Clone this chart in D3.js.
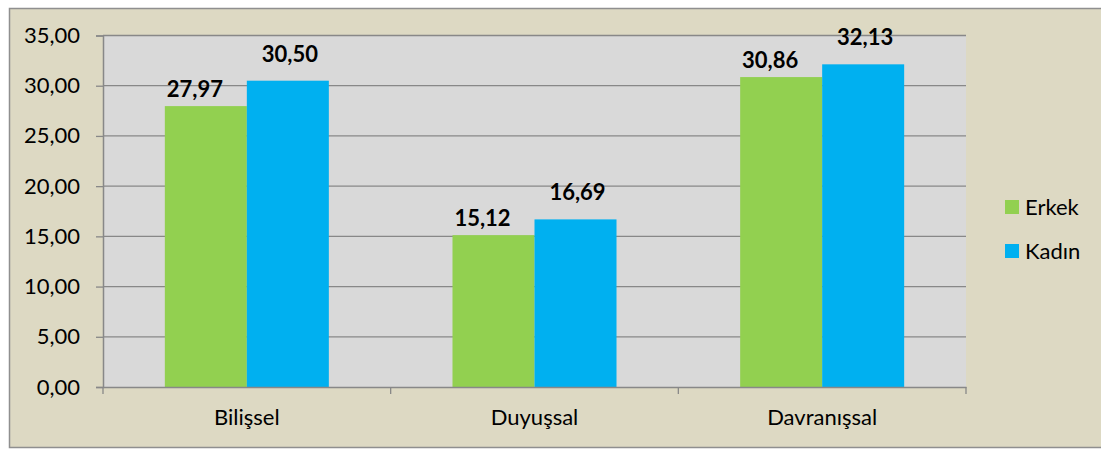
<!DOCTYPE html>
<html>
<head>
<meta charset="utf-8">
<script src="https://cdn.jsdelivr.net/npm/d3@7"></script>
<style>
  body { margin: 0; background: #fff; }
  svg { display: block; font-family: Lato, 'Open Sans', sans-serif; }
</style>
</head>
<body>
<div id="chart"></div>
<script>
const categories = ['Bilişsel', 'Duyuşsal', 'Davranışsal'];
const seriesNames = ['Erkek', 'Kadın'];
const erkek = [27.97, 15.12, 30.86];
const kadin = [30.50, 16.69, 32.13];
const yTicks = [0, 5, 10, 15, 20, 25, 30, 35];

const colors = { Erkek: '#92d050', 'Kadın': '#00b0f0' };
// label offsets as in the original (above bar top / horizontal shift)
const labelGap = { Erkek: 9, 'Kadın': 19 };
const labelShift = { Erkek: -11, 'Kadın': 2 };

const width = 1101;
const height = 449;
const plot = { left: 103, right: 966, top: 35.5, bottom: 387 };

const locale = d3.formatLocale({ decimal: ',', thousands: '.', grouping: [3], currency: ['', ''] });
const fmt = locale.format('.2f');

const svg = d3.select('#chart').append('svg')
  .attr('width', width)
  .attr('height', height);

// Background
svg.append('rect')
  .attr('x', 9.5).attr('y', 8.5)
  .attr('width', 1100).attr('height', 439)
  .attr('fill', '#ddd9c3')
  .attr('stroke', '#8f8f8f')
  .attr('stroke-width', 1.5);

svg.append('rect')
  .attr('x', plot.left).attr('y', plot.top)
  .attr('width', plot.right - plot.left).attr('height', plot.bottom - plot.top)
  .attr('fill', '#d9d9d9');

// Scales
const x0 = d3.scaleBand().domain(categories).range([plot.left, plot.right]);
const x1 = d3.scaleBand().domain(seriesNames).range([0, x0.bandwidth()]).paddingOuter(0.754);
const y = d3.scaleLinear().domain([0, 35]).range([plot.bottom, plot.top]);

// Grid
svg.append('g')
  .selectAll('line')
  .data(yTicks.slice(1))
  .enter()
  .append('line')
  .attr('x1', plot.left).attr('x2', plot.right)
  .attr('y1', (d) => y(d)).attr('y2', (d) => y(d))
  .attr('stroke', '#888')
  .attr('stroke-width', 1.3);

// Y axis
const yAxis = d3.axisLeft(y).tickValues(yTicks).tickFormat(fmt).tickSize(7).tickPadding(16);
const yg = svg.append('g')
  .attr('transform', `translate(${plot.left},0)`)
  .call(yAxis);
yg.select('.domain').attr('stroke', '#888').attr('stroke-width', 1.5);
yg.selectAll('.tick line').attr('stroke', '#888').attr('stroke-width', 1.3);
yg.selectAll('.tick text')
  .attr('font-size', 22).attr('fill', '#000').attr('font-family', 'Lato, sans-serif');

// Bars
const rows = categories.map((c, i) => ({ cat: c, values: [
  { name: 'Erkek', value: erkek[i] },
  { name: 'Kadın', value: kadin[i] }
] }));

const groups = svg.selectAll('.grp')
  .data(rows)
  .enter()
  .append('g')
  .attr('class', 'grp')
  .attr('transform', (d) => `translate(${x0(d.cat)},0)`);

groups.selectAll('rect')
  .data((d) => d.values)
  .enter()
  .append('rect')
  .attr('x', (d) => x1(d.name))
  .attr('width', x1.bandwidth())
  .attr('y', (d) => y(d.value))
  .attr('height', (d) => plot.bottom - y(d.value))
  .attr('fill', (d) => colors[d.name]);

groups.selectAll('text')
  .data((d) => d.values)
  .enter()
  .append('text')
  .attr('x', (d) => x1(d.name) + x1.bandwidth() / 2 + labelShift[d.name])
  .attr('y', (d) => y(d.value) - labelGap[d.name])
  .attr('text-anchor', 'middle')
  .attr('font-size', 22)
  .attr('font-weight', 'bold')
  .text((d) => fmt(d.value));

// X axis
const xAxis = d3.axisBottom(x0).tickSize(0).tickPadding(22);
const xg = svg.append('g')
  .attr('transform', `translate(0,${plot.bottom})`)
  .call(xAxis);
xg.select('.domain').attr('stroke', '#888').attr('stroke-width', 1.5);
xg.selectAll('.tick text')
  .attr('font-size', 22).attr('fill', '#000').attr('font-family', 'Lato, sans-serif');

// category separators
svg.append('g')
  .selectAll('line')
  .data([plot.left, x0('Duyuşsal'), x0('Davranışsal'), plot.right])
  .enter()
  .append('line')
  .attr('x1', (d) => d).attr('x2', (d) => d)
  .attr('y1', plot.bottom).attr('y2', plot.bottom + 7)
  .attr('stroke', '#888')
  .attr('stroke-width', 1.3);

// Legend
const legend = svg.append('g')
  .selectAll('g')
  .data(seriesNames)
  .enter()
  .append('g')
  .attr('transform', (d, i) => `translate(1005,${200 + i * 44})`);

legend.append('rect')
  .attr('width', 14).attr('height', 14)
  .attr('fill', (d) => colors[d]);

legend.append('text')
  .attr('x', 20).attr('y', 7)
  .attr('dy', '0.35em')
  .attr('font-size', 22)
  .text((d) => d);
</script>
</body>
</html>
